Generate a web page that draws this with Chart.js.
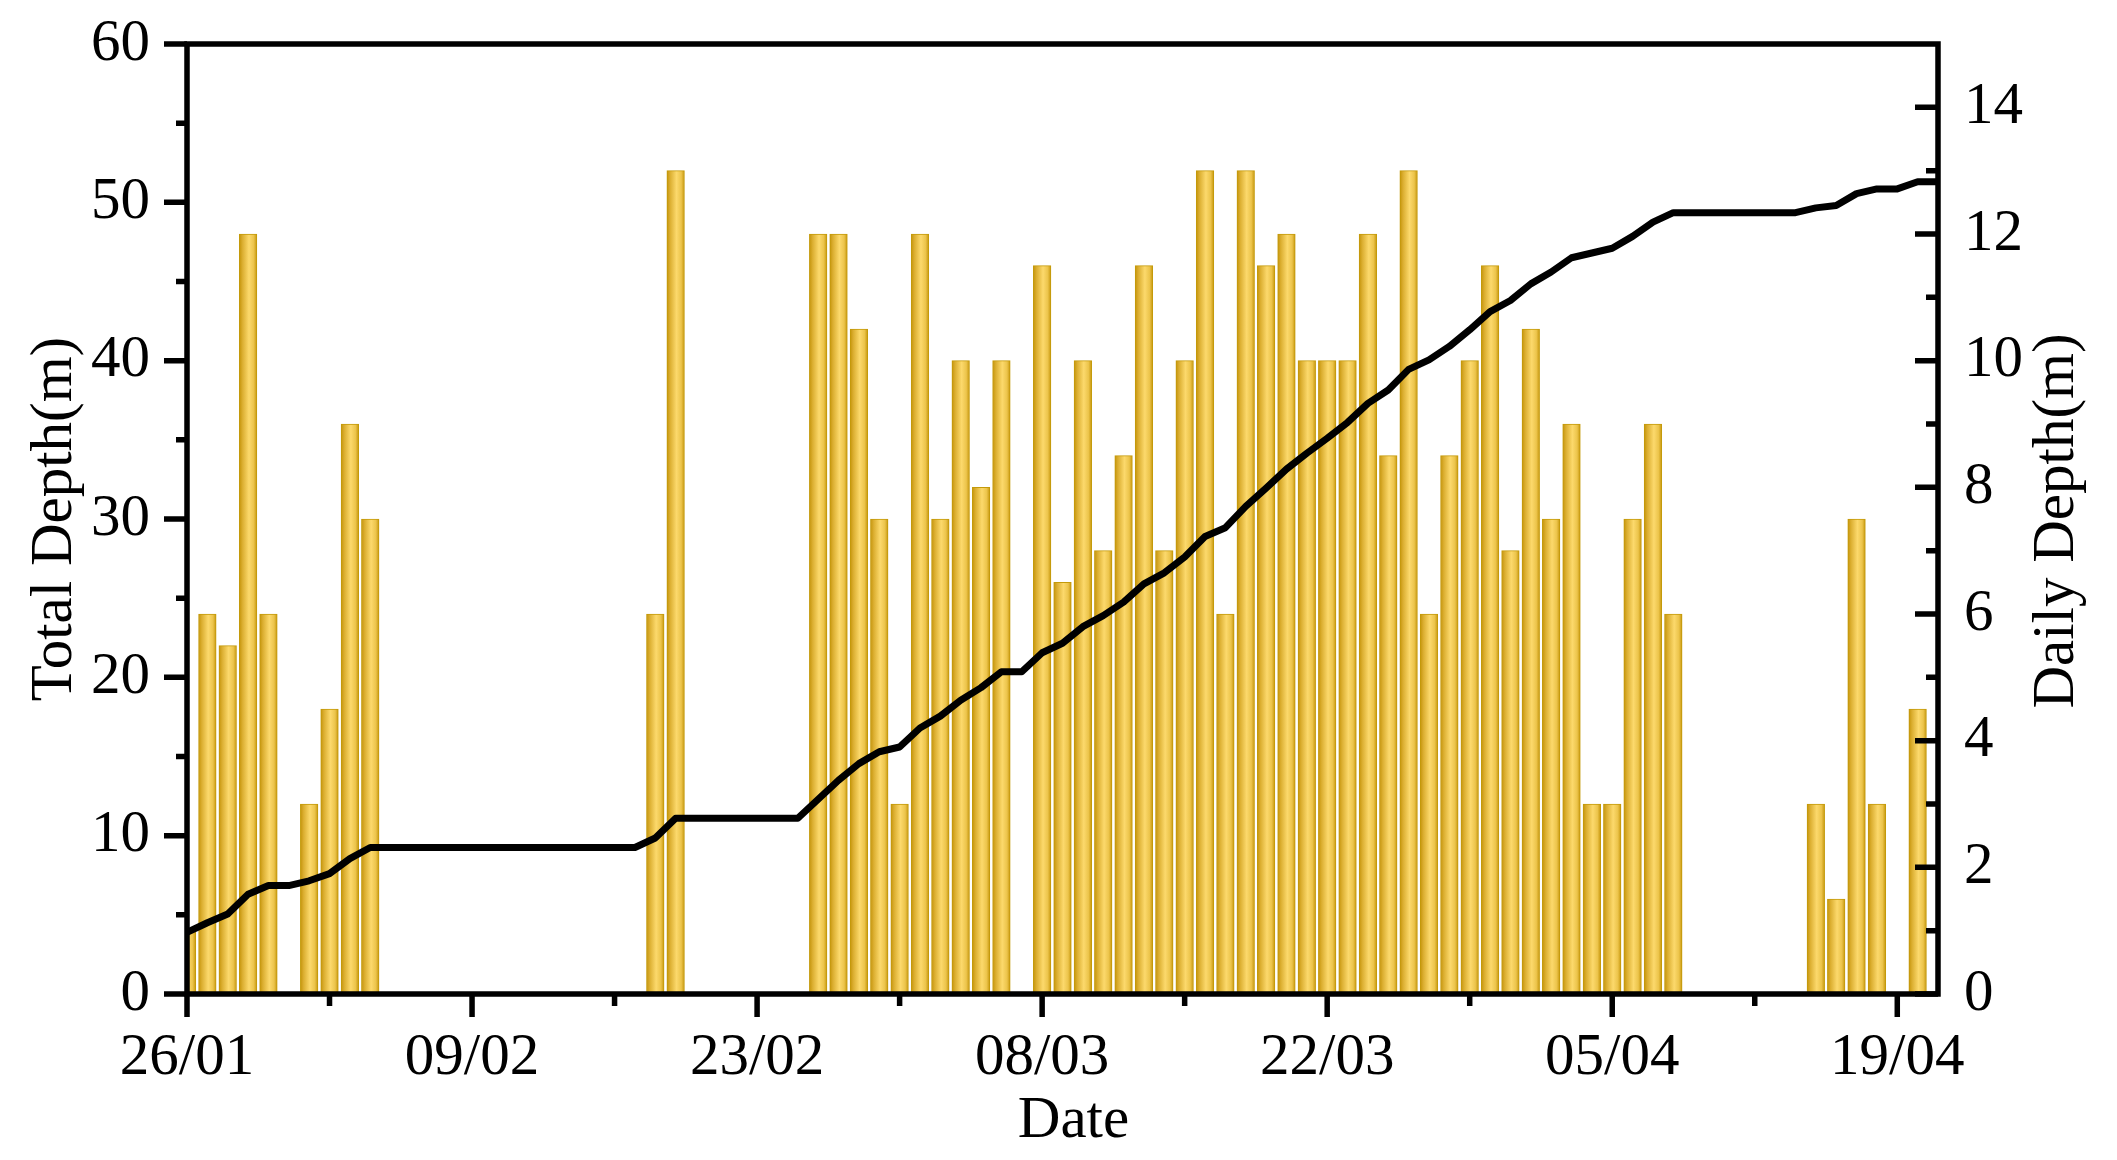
<!DOCTYPE html>
<html>
<head>
<meta charset="utf-8">
<script src="https://cdn.jsdelivr.net/npm/chart.js@4.4.1/dist/chart.umd.min.js"></script>
<style>
  html, body { margin: 0; padding: 0; background: #ffffff; }
  #wrap { width: 2117px; height: 1160px; position: relative; }
</style>
</head>
<body>
<div id="wrap"><canvas id="c"></canvas></div>
<script>
// ---- Data (day index 0 = 26/01) ----
const barDays = [0,1,2,3,4,6,7,8,9,23,24,31,32,33,34,35,36,37,38,39,40,
  42,43,44,45,46,47,48,49,50,51,52,53,54,55,56,57,58,59,60,61,62,63,64,65,66,67,68,69,70,71,72,73,
  80,81,82,83,85];
const dailyDepth = [1,6,5.5,12,6,3,4.5,9,7.5,6,13,12,12,10.5,7.5,3,12,7.5,10,8,10,
  11.5,6.5,10,7,8.5,11.5,7,10,13,6,13,11.5,12,10,10,10,12,8.5,13,6,8.5,10,11.5,7,10.5,7.5,9,3,3,7.5,9,6,
  3,1.5,7.5,3,4.5];

// total depth, one value per day from day 0 to day 86
const totalDepth = [
  3.9,4.5,5.05,6.3,6.85,6.85,7.15,7.6,8.55,9.25,
  9.25,9.25,9.25,9.25,9.25,9.25,9.25,9.25,9.25,9.25,9.25,9.25,9.25,
  9.85,11.1,
  11.1,11.1,11.1,11.1,11.1,11.1,
  12.3,13.5,14.55,15.3,15.6,16.8,17.55,18.55,19.35,20.35,20.35,
  21.55,22.15,23.2,23.9,24.75,25.9,26.6,27.6,28.9,29.45,30.8,31.95,33.15,34.15,35.1,36.1,
  37.3,38.15,39.45,40.05,40.9,41.95,43.1,43.8,44.85,45.6,46.5,46.8,47.1,47.85,48.75,49.35,
  49.35,49.35,49.35,49.35,49.35,49.35,
  49.65,49.8,50.55,50.85,50.85,51.3,51.3
];

const xTickDays   = [0,14,28,42,56,70,84];
const xTickLabels = ['26/01','09/02','23/02','08/03','22/03','05/04','19/04'];
const xMinorDays  = [7,21,35,49,63,77];
const leftTicks   = [0,10,20,30,40,50,60];
const leftMinor   = [5,15,25,35,45,55];
const rightTicks  = [0,2,4,6,8,10,12,14];
const rightMinor  = [1,3,5,7,9,11,13];

const xTitle = 'Date';
const leftTitle = 'Total Depth(m)';
const rightTitle = 'Daily Depth(m)';

// ---- styling ----
const FONT = 'Liberation Serif';
const FSIZE = 59;
const BAR_W = 17.6;
const AX_W = 5.5;

function barFill(context) {
  const chart = context.chart;
  const xs = chart.scales && chart.scales.x;
  if (!xs || context.type !== 'data' || !context.raw) return '#F0C850';
  const px = xs.getPixelForValue(context.raw.x);
  if (!isFinite(px)) return '#F0C850';
  const hw = BAR_W / 2;
  const g = chart.ctx.createLinearGradient(px - hw, 0, px + hw, 0);
  g.addColorStop(0.0, '#C4930A');
  g.addColorStop(0.18, '#DBAE30');
  g.addColorStop(0.55, '#FCD96C');
  g.addColorStop(0.82, '#ECC44B');
  g.addColorStop(1.0, '#C6960C');
  return g;
}

const decor = {
  id: 'decor',
  afterDatasetsDraw(chart) {
    const { ctx, chartArea: a, scales } = chart;
    ctx.save();
    ctx.strokeStyle = '#000';
    ctx.lineWidth = AX_W;
    ctx.lineCap = 'butt';
    // frame
    ctx.beginPath();
    ctx.moveTo(a.left - AX_W / 2, a.top);
    ctx.lineTo(a.right + AX_W / 2, a.top);
    ctx.moveTo(a.left - AX_W / 2, a.bottom);
    ctx.lineTo(a.right + AX_W / 2, a.bottom);
    ctx.moveTo(a.left, a.top);
    ctx.lineTo(a.left, a.bottom + AX_W / 2);
    ctx.moveTo(a.right, a.top);
    ctx.lineTo(a.right, a.bottom + AX_W / 2);
    ctx.stroke();
    // ticks
    ctx.beginPath();
    leftTicks.forEach(v => { const y = scales.y.getPixelForValue(v); ctx.moveTo(a.left - 23, y); ctx.lineTo(a.left, y); });
    leftMinor.forEach(v => { const y = scales.y.getPixelForValue(v); ctx.moveTo(a.left - 11, y); ctx.lineTo(a.left, y); });
    rightTicks.forEach(v => { const y = scales.y1.getPixelForValue(v); ctx.moveTo(a.right - 23, y); ctx.lineTo(a.right, y); });
    rightMinor.forEach(v => { const y = scales.y1.getPixelForValue(v); ctx.moveTo(a.right - 12, y); ctx.lineTo(a.right, y); });
    xTickDays.forEach(v => { const x = scales.x.getPixelForValue(v); ctx.moveTo(x, a.bottom); ctx.lineTo(x, a.bottom + 23); });
    xMinorDays.forEach(v => { const x = scales.x.getPixelForValue(v); ctx.moveTo(x, a.bottom); ctx.lineTo(x, a.bottom + 12); });
    ctx.stroke();
    // titles
    ctx.fillStyle = '#000';
    ctx.font = FSIZE + 'px "' + FONT + '"';
    ctx.textAlign = 'center';
    ctx.textBaseline = 'middle';
    ctx.fillText(xTitle, (a.left + a.right) / 2 + 11, a.bottom + 127);
    const cy = (a.top + a.bottom) / 2;
    ctx.save();
    ctx.translate(a.left - 132, cy);
    ctx.rotate(-Math.PI / 2);
    ctx.fillText(leftTitle, 0, 0);
    ctx.restore();
    ctx.save();
    ctx.translate(a.right + 119, cy + 2);
    ctx.rotate(-Math.PI / 2);
    ctx.fillText(rightTitle, 0, 0);
    ctx.restore();
    ctx.restore();
  }
};

Chart.defaults.font.family = FONT;
Chart.defaults.font.size = FSIZE;
Chart.defaults.color = '#000';

function noVPad(s) { s.paddingTop = 0; s.paddingBottom = 0; }

new Chart(document.getElementById('c'), {
  type: 'bar',
  data: {
    datasets: [
      {
        type: 'line',
        label: leftTitle,
        data: totalDepth.map((v, i) => ({ x: i, y: v })),
        yAxisID: 'y',
        borderColor: '#000',
        borderWidth: 7,
        borderJoinStyle: 'round',
        pointRadius: 0,
        tension: 0,
        fill: false,
        order: 0
      },
      {
        type: 'bar',
        label: rightTitle,
        data: barDays.map((d, i) => ({ x: d, y: dailyDepth[i] })),
        yAxisID: 'y1',
        backgroundColor: barFill,
        borderColor: '#C49A0A',
        borderWidth: 1,
        borderSkipped: 'bottom',
        barThickness: BAR_W,
        order: 1
      }
    ]
  },
  options: {
    responsive: true,
    maintainAspectRatio: false,
    animation: false,
    devicePixelRatio: 1,
    layout: { padding: { top: 44, left: 0, right: 0, bottom: 0 } },
    plugins: { legend: { display: false }, tooltip: { enabled: false } },
    scales: {
      x: {
        type: 'linear',
        min: 0, max: 86,
        offset: false,
        grid: { display: false, drawTicks: false },
        border: { display: false },
        ticks: {
          autoSkip: false, maxRotation: 0, minRotation: 0, padding: 29,
          callback: (v) => { const k = xTickDays.indexOf(v); return k >= 0 ? xTickLabels[k] : ''; }
        },
        afterBuildTicks: (s) => { s.ticks = xTickDays.map(v => ({ value: v })); },
        afterFit: (s) => { s.height = 166; }
      },
      y: {
        type: 'linear', position: 'left',
        min: 0, max: 60,
        grid: { display: false, drawTicks: false },
        border: { display: false },
        ticks: { padding: 37 },
        afterBuildTicks: (s) => { s.ticks = leftTicks.map(v => ({ value: v })); },
        afterFit: (s) => { s.width = 187; noVPad(s); }
      },
      y1: {
        type: 'linear', position: 'right',
        min: 0, max: 15,
        grid: { display: false, drawTicks: false },
        border: { display: false },
        ticks: { padding: 26 },
        afterBuildTicks: (s) => { s.ticks = rightTicks.map(v => ({ value: v })); },
        afterFit: (s) => { s.width = 179; noVPad(s); }
      }
    }
  },
  plugins: [decor]
});
</script>
</body>
</html>
